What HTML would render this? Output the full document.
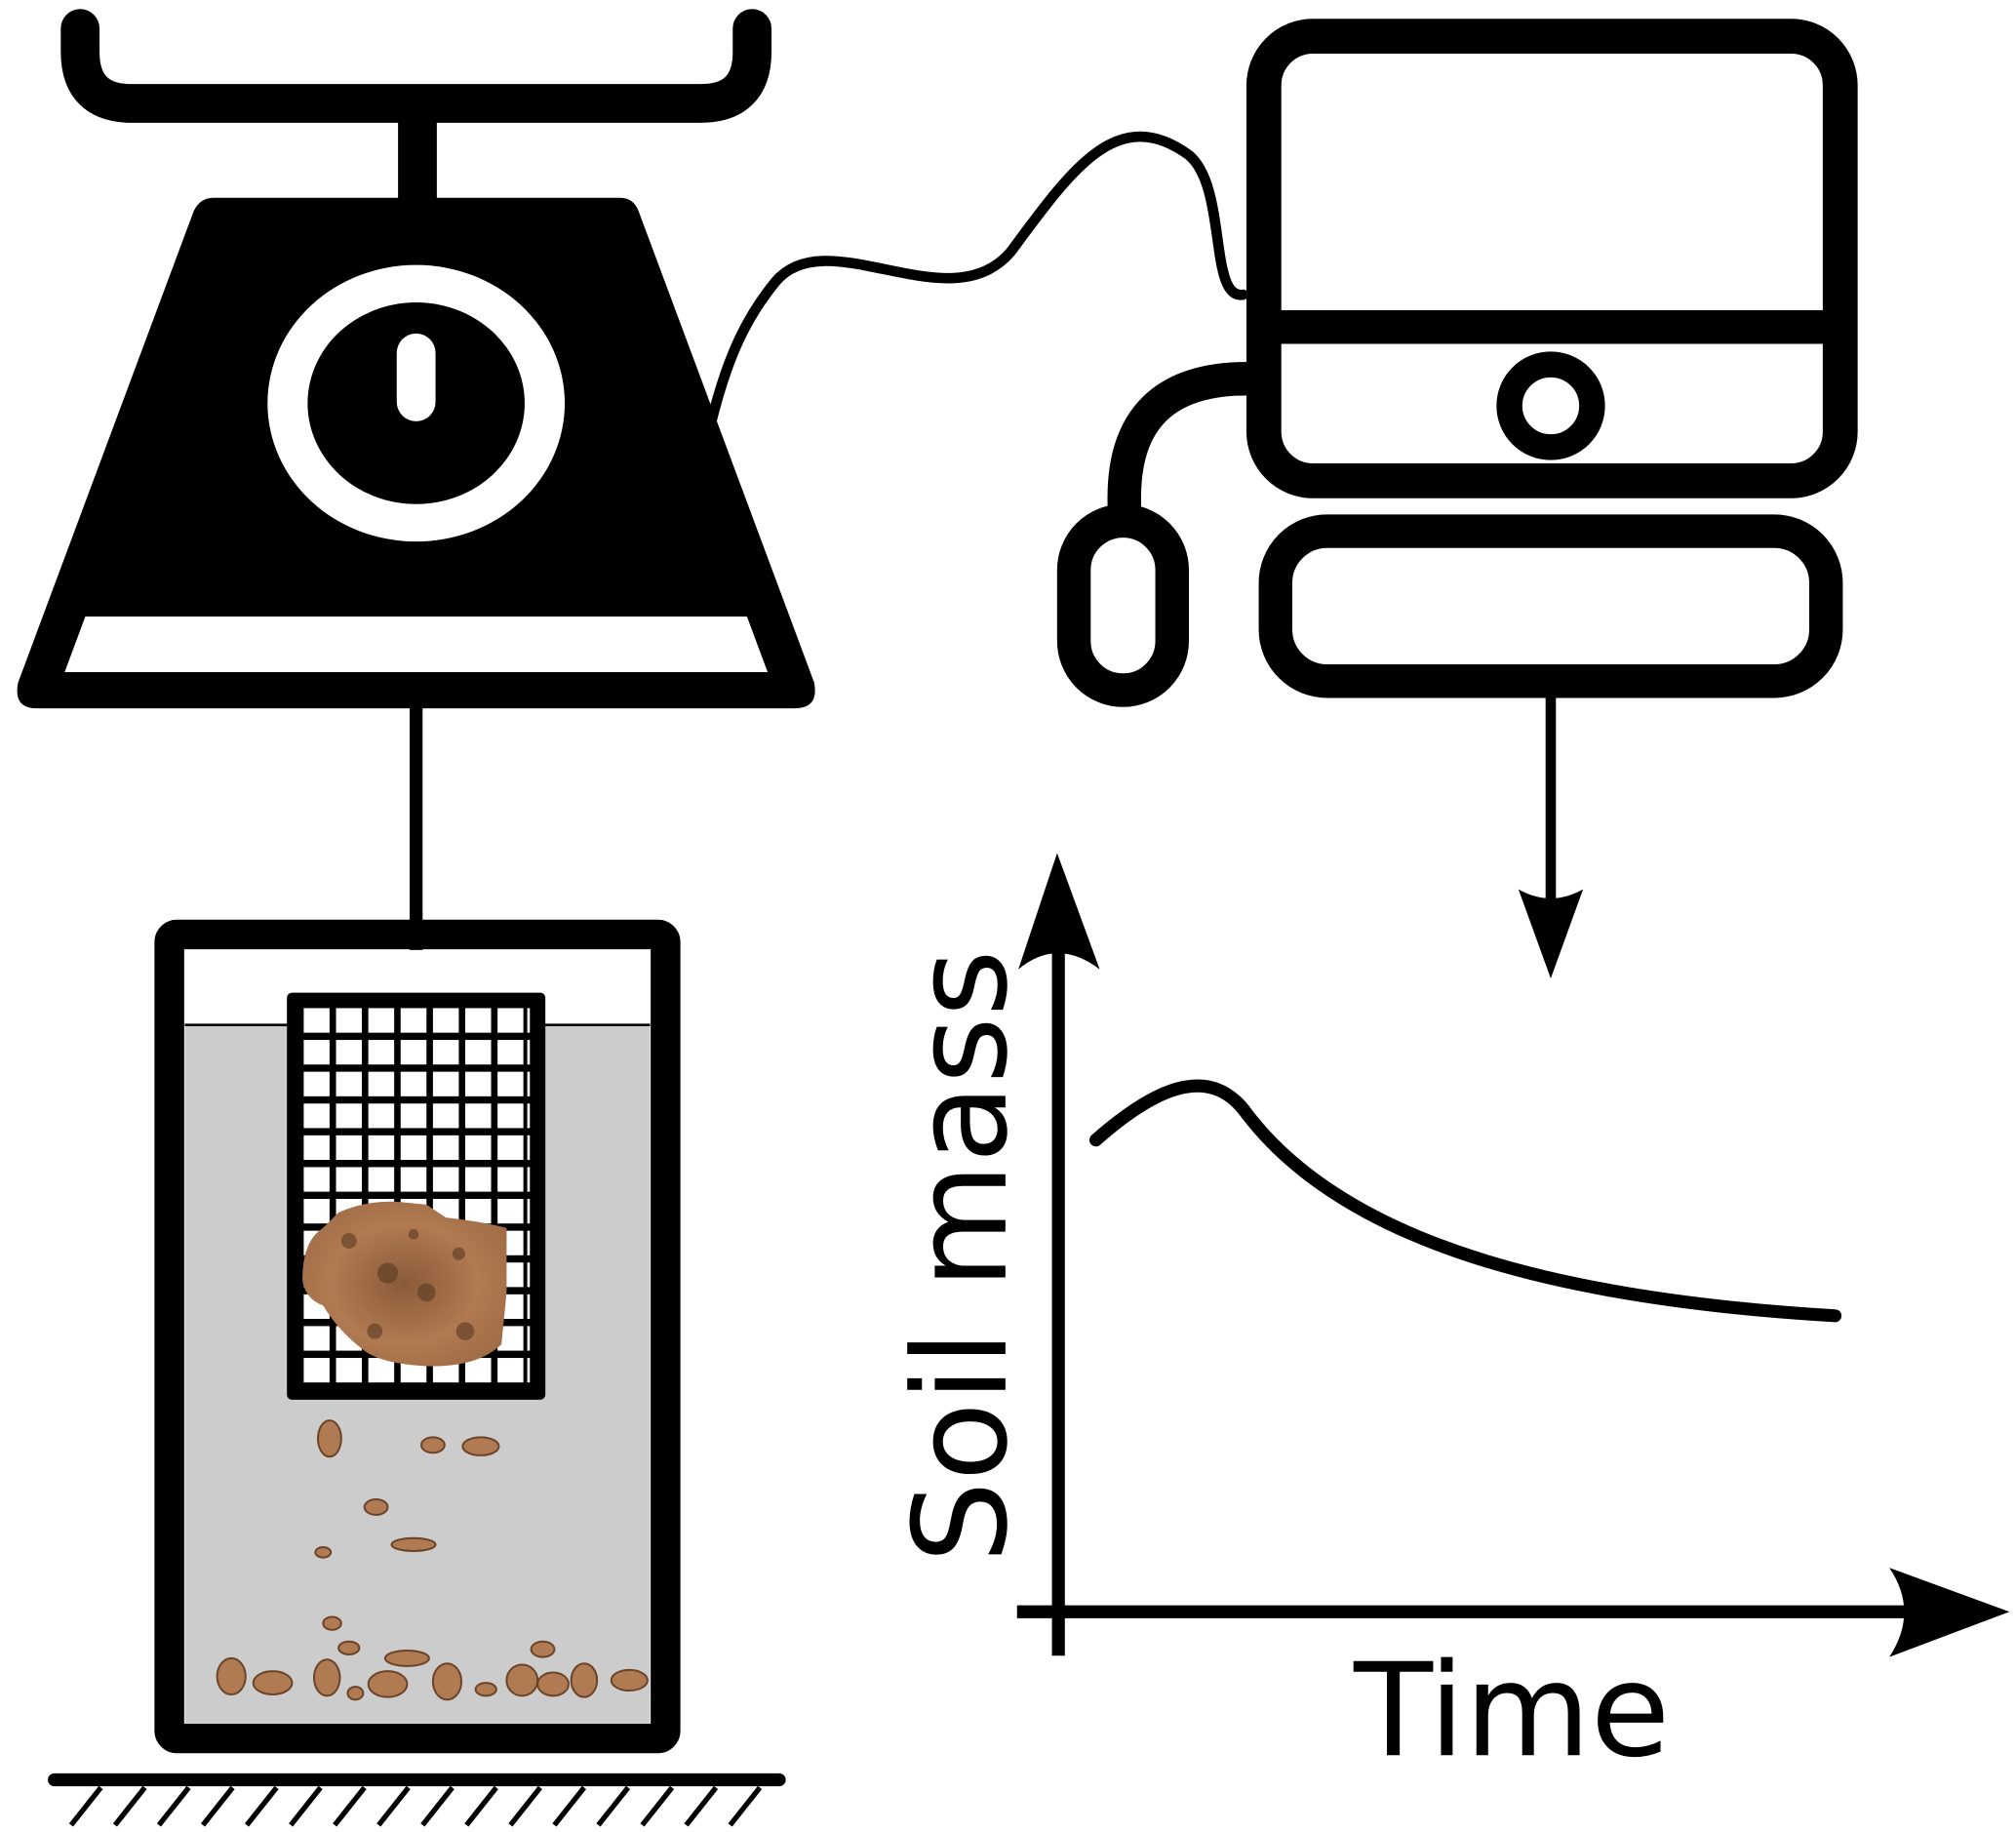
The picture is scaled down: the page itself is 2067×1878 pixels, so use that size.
<!DOCTYPE html>
<html><head><meta charset="utf-8"><style>html,body{margin:0;padding:0;background:#fff}svg{display:block}</style></head>
<body>
<svg width="2067" height="1878" viewBox="0 0 1560 1417.4" xmlns="http://www.w3.org/2000/svg">
<rect width="1560" height="1418" fill="#fff"/>
<path d="M62,22 V40 Q62,80 102,80 H542 Q582,80 582,40 V22" fill="none" stroke="#000" stroke-width="30" stroke-linecap="round" stroke-linejoin="round"/>
<rect x="308" y="80" width="30" height="80" fill="#000"/>
<path d="M165,153 H480 Q490,153 494,163 L630,528 Q634,548 615,548 H28 Q10,548 14,528 L150,163 Q155,153 165,153 Z" fill="#000"/>
<polygon points="66,477 578,477 594,520 50,520" fill="#fff"/>
<ellipse cx="322" cy="312" rx="115" ry="107" fill="#fff"/>
<ellipse cx="322" cy="312" rx="84" ry="78" fill="#000"/>
<rect x="307" y="258" width="30" height="68" rx="15" fill="#fff"/>
<line x1="322" y1="545" x2="322" y2="775" stroke="#000" stroke-width="10"/>
<rect x="143" y="735" width="360" height="598" fill="#fff"/>
<rect x="143" y="793" width="360" height="540" fill="#cccccc"/>
<line x1="143" y1="793" x2="503" y2="793" stroke="#000" stroke-width="2"/>
<rect x="131" y="723" width="384" height="622" rx="6" fill="none" stroke="#000" stroke-width="23"/>
<rect x="222" y="768" width="200" height="315" rx="4" fill="#000"/>
<g fill="#fff">
<g id="row">
<rect x="235" y="780" width="20" height="19"/><rect x="260" y="780" width="20" height="19"/><rect x="285" y="780" width="20" height="19"/><rect x="310" y="780" width="20" height="19"/><rect x="335" y="780" width="20" height="19"/><rect x="360" y="780" width="20" height="19"/><rect x="385" y="780" width="20" height="19"/><rect x="408" y="780" width="2" height="19"/>
</g>
<use href="#row" y="24.6"/><use href="#row" y="49.2"/><use href="#row" y="73.8"/><use href="#row" y="98.4"/><use href="#row" y="123"/><use href="#row" y="147.6"/><use href="#row" y="172.2"/><use href="#row" y="196.8"/><use href="#row" y="221.4"/><use href="#row" y="246"/><use href="#row" y="270.6"/>
</g>
<defs><radialGradient id="sg" cx="0.5" cy="0.5" r="0.6"><stop offset="0" stop-color="#8a5a38"/><stop offset="0.6" stop-color="#b07a52"/><stop offset="1" stop-color="#a06c45"/></radialGradient></defs>
<path d="M262,938 Q285,928 310,930 L330,932 L345,942 Q372,945 392,950 L392,1000 L388,1040 Q370,1058 330,1057 Q295,1055 282,1045 Q262,1030 250,1010 Q236,1005 234,990 Q234,960 250,950 Z" fill="url(#sg)"/>
<g fill="#5a3a22" opacity="0.6"><circle cx="270" cy="960" r="6"/><circle cx="300" cy="985" r="8"/><circle cx="330" cy="1000" r="7"/><circle cx="355" cy="970" r="5"/><circle cx="290" cy="1030" r="6"/><circle cx="360" cy="1030" r="7"/><circle cx="320" cy="955" r="4"/></g>
<g fill="#b07a52" stroke="#6b4428" stroke-width="1.5">
<ellipse cx="255" cy="1113" rx="9" ry="14"/><ellipse cx="335" cy="1118" rx="9" ry="6"/><ellipse cx="372" cy="1119" rx="14" ry="7"/>
<ellipse cx="291" cy="1166" rx="9" ry="6"/><ellipse cx="320" cy="1195" rx="17" ry="5"/><ellipse cx="250" cy="1201" rx="6" ry="4"/>
<ellipse cx="257" cy="1256" rx="7" ry="5"/><ellipse cx="270" cy="1275" rx="8" ry="5"/><ellipse cx="315" cy="1283" rx="17" ry="6"/><ellipse cx="420" cy="1276" rx="9" ry="6"/>
<ellipse cx="179" cy="1297" rx="11" ry="14"/><ellipse cx="211" cy="1302" rx="15" ry="9"/><ellipse cx="253" cy="1298" rx="10" ry="14"/><ellipse cx="275" cy="1310" rx="6" ry="5"/><ellipse cx="300" cy="1303" rx="15" ry="10"/><ellipse cx="346" cy="1301" rx="11" ry="14"/><ellipse cx="376" cy="1307" rx="8" ry="5"/><ellipse cx="404" cy="1300" rx="12" ry="12"/><ellipse cx="428" cy="1303" rx="12" ry="9"/><ellipse cx="452" cy="1300" rx="10" ry="13"/><ellipse cx="487" cy="1300" rx="14" ry="8"/>
</g>
<line x1="42" y1="1377" x2="603" y2="1377" stroke="#000" stroke-width="10" stroke-linecap="round"/>
<g stroke="#000" stroke-width="4">
<line x1="78" y1="1383" x2="55" y2="1412"/><line x1="112" y1="1383" x2="89" y2="1412"/><line x1="146" y1="1383" x2="123" y2="1412"/><line x1="180" y1="1383" x2="157" y2="1412"/><line x1="214" y1="1383" x2="191" y2="1412"/><line x1="248" y1="1383" x2="225" y2="1412"/><line x1="282" y1="1383" x2="259" y2="1412"/><line x1="316" y1="1383" x2="293" y2="1412"/><line x1="350" y1="1383" x2="327" y2="1412"/><line x1="384" y1="1383" x2="361" y2="1412"/><line x1="418" y1="1383" x2="395" y2="1412"/><line x1="452" y1="1383" x2="429" y2="1412"/><line x1="486" y1="1383" x2="463" y2="1412"/><line x1="520" y1="1383" x2="497" y2="1412"/><line x1="554" y1="1383" x2="531" y2="1412"/><line x1="588" y1="1383" x2="565" y2="1412"/>
</g>
<path d="M550,328 C563,275 578,245 600,218 C640,170 735,250 782,195 C830,130 865,80 920,120 C950,145 935,232 962,228" fill="none" stroke="#000" stroke-width="8" stroke-linecap="round"/>
<rect x="978" y="28" width="446" height="344" rx="38" fill="none" stroke="#000" stroke-width="27"/>
<line x1="978" y1="253" x2="1424" y2="253" stroke="#000" stroke-width="26"/>
<circle cx="1200" cy="314" r="32" fill="none" stroke="#000" stroke-width="20"/>
<rect x="987" y="411" width="426" height="116" rx="40" fill="none" stroke="#000" stroke-width="26"/>
<path d="M870,392 V385 Q870,293 965,293" fill="none" stroke="#000" stroke-width="26"/>
<rect x="831" y="403" width="76" height="131" rx="38" fill="none" stroke="#000" stroke-width="26"/>
<line x1="1200" y1="540" x2="1200" y2="710" stroke="#000" stroke-width="8"/>
<path d="M1200,757 L1175,688 Q1200,702 1225,688 Z" fill="#000"/>
<line x1="819" y1="1281" x2="819" y2="720" stroke="#000" stroke-width="10"/>
<path d="M818,660 L851,750 Q818,725 788,750 Z" fill="#000"/>
<line x1="787" y1="1247" x2="1490" y2="1247" stroke="#000" stroke-width="10"/>
<path d="M1555,1247 L1462,1213 Q1485,1247 1462,1282 Z" fill="#000"/>
<path d="M848,882 C890,845 935,820 965,862 C1040,960 1200,1005 1420,1018" fill="none" stroke="#000" stroke-width="10" stroke-linecap="round"/>
<text transform="translate(778,972) rotate(-90)" text-anchor="middle" font-family="DejaVu Sans, sans-serif" font-size="100">Soil mass</text>
<text x="1170" y="1358" text-anchor="middle" font-family="DejaVu Sans, sans-serif" font-size="100">Time</text>
</svg>
</body></html>
